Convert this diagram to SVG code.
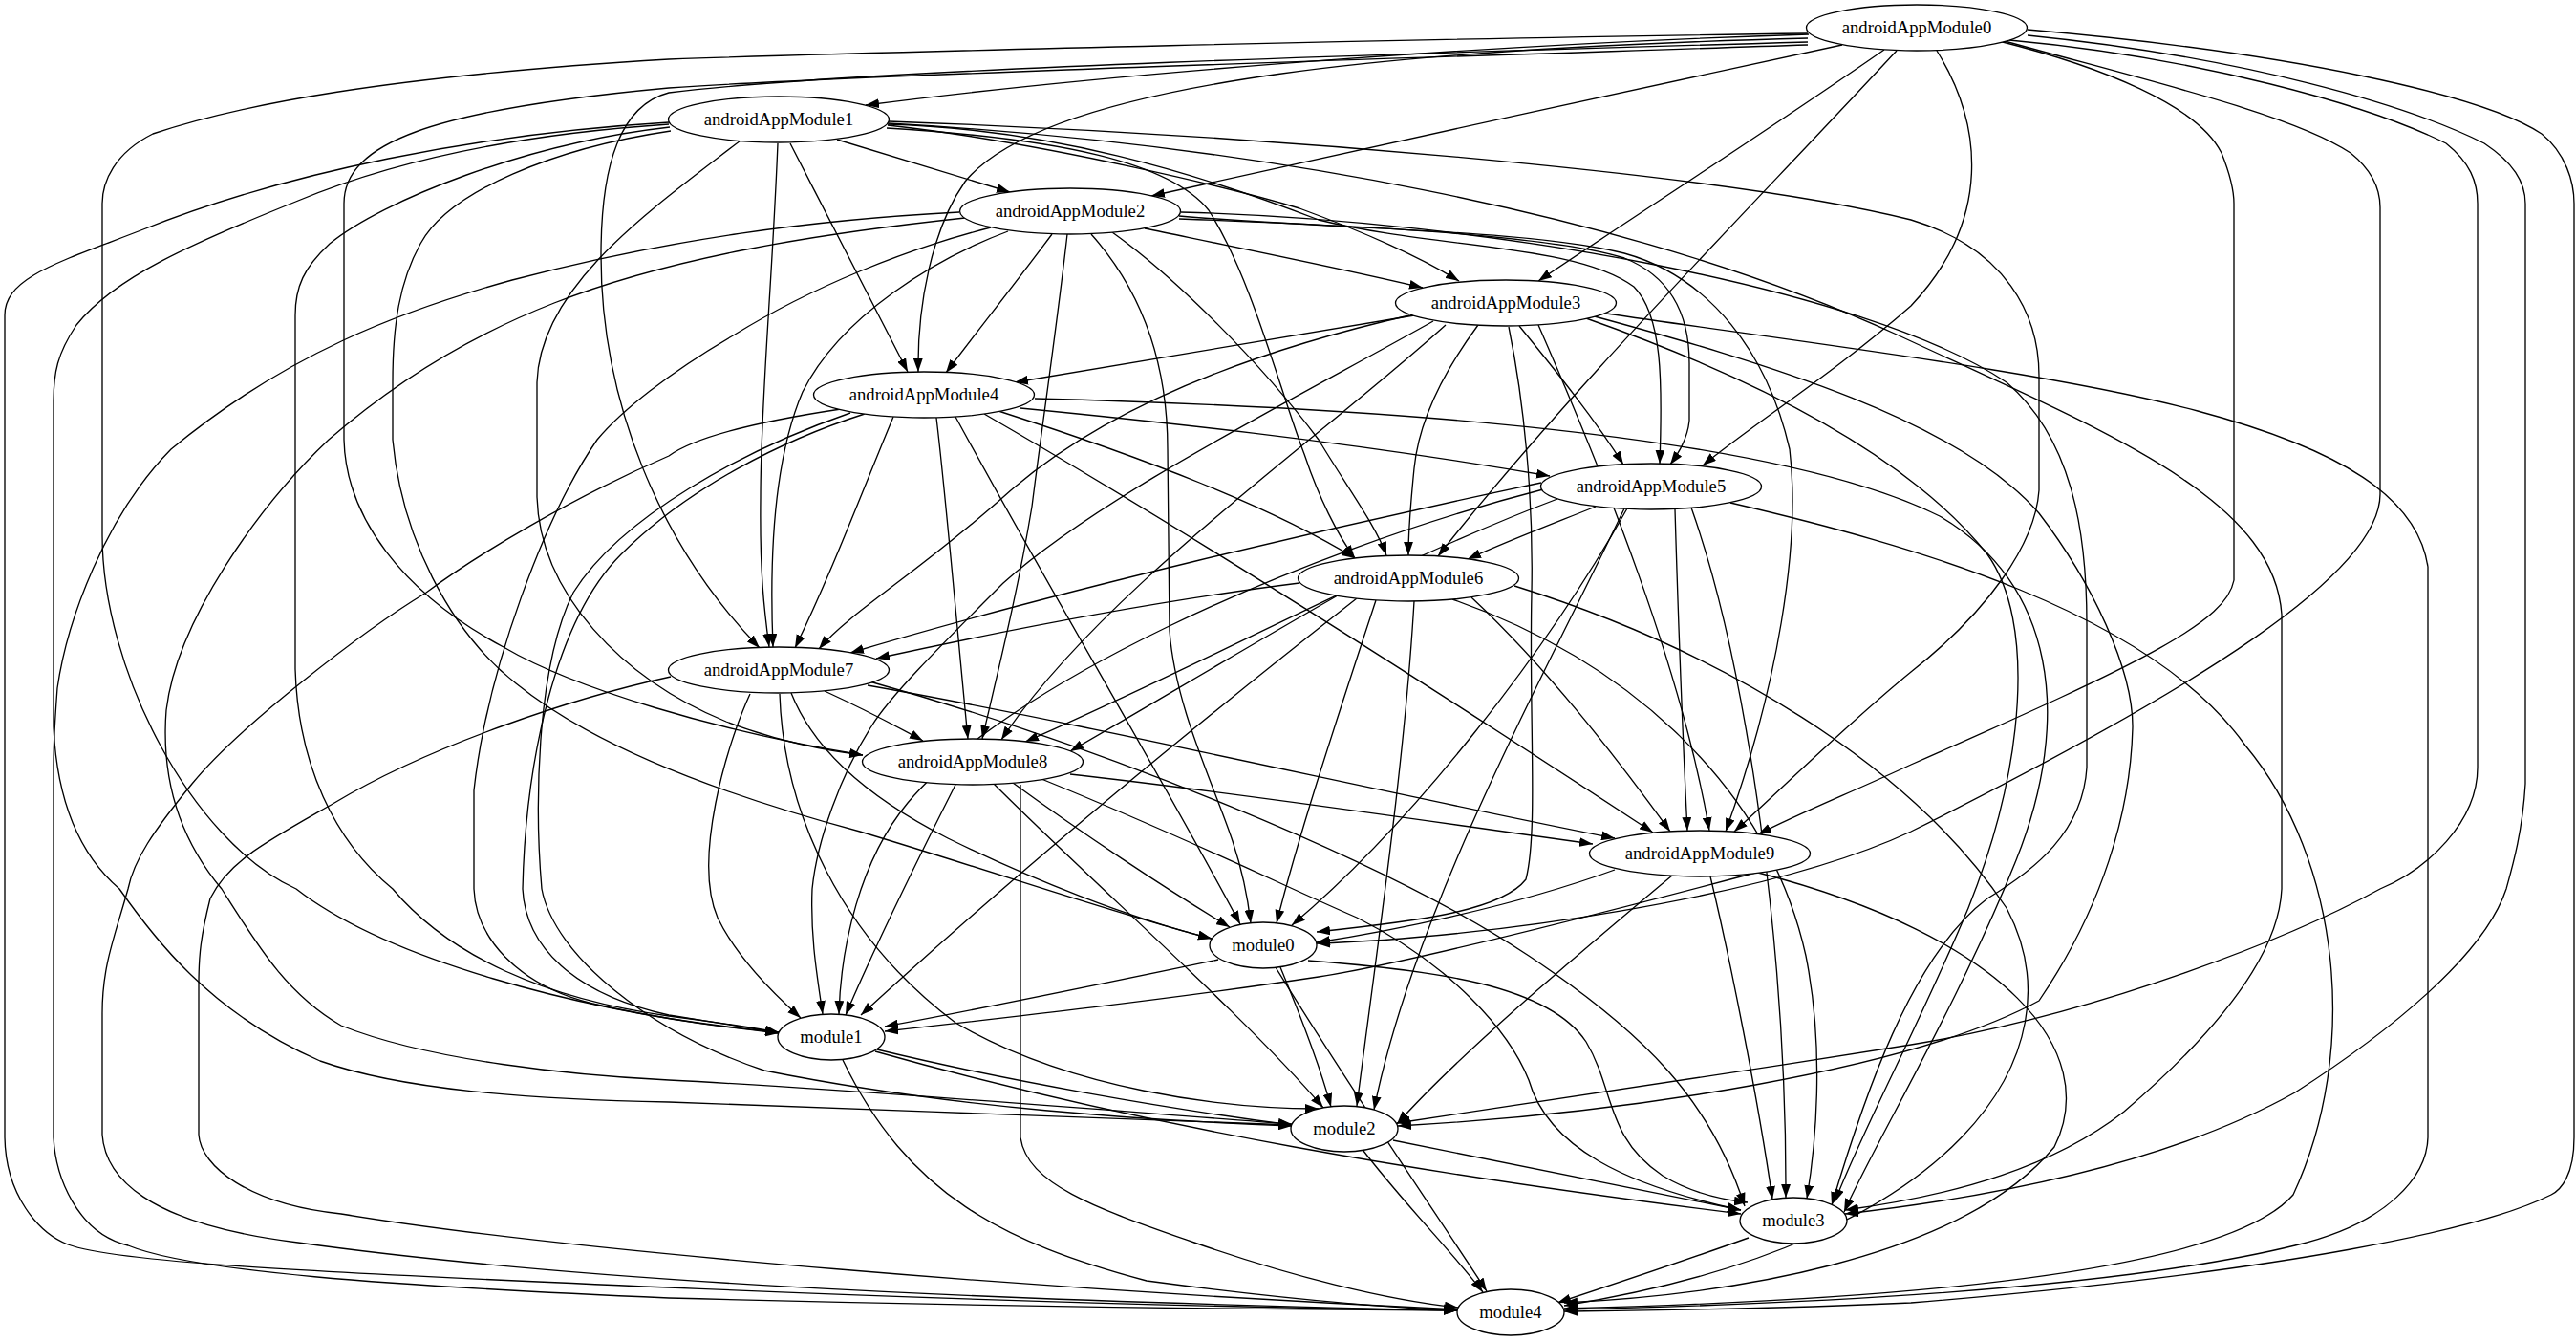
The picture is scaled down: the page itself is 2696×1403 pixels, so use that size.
<svg xmlns="http://www.w3.org/2000/svg" width="2696" height="1403" viewBox="0 0 2696 1403">
<style>
.n ellipse{fill:#fff;stroke:#000;stroke-width:1.33}
.n text{font-family:"Liberation Serif","Times New Roman",serif;font-size:18.67px;text-anchor:middle;fill:#000}
#edges path{fill:none;stroke:#000;stroke-width:1.33;marker-end:url(#ah)}
</style>
<defs>
<marker id="ah" markerUnits="userSpaceOnUse" markerWidth="14" markerHeight="10" refX="13.3" refY="4.67" orient="auto" viewBox="0 0 13.3 9.34"><path d="M0,0 L13.3,4.67 L0,9.34 z" fill="#000"/></marker>
</defs>
<rect width="2696" height="1403" fill="#fff"/>
<g id="edges">
<path d="M1893,36 C1600,45 1200,72 906,110"/>
<path d="M1928,47 C1700,95 1420,158 1205,205"/>
<path d="M1972,52 C1860,130 1720,220 1610,294"/>
<path d="M1892,40 C1500,50 1100,80 1010,190 C975,240 960,320 961,389"/>
<path d="M2027,53 C2075,130 2085,230 2000,320 C1920,390 1840,440 1782,487"/>
<path d="M1985,53 C1830,220 1640,410 1505,582"/>
<path d="M1892,44 C1500,55 900,72 700,97 C650,110 629,170 629,267 C629,420 690,570 795,678"/>
<path d="M1892,47 C1500,60 900,78 700,92 C450,115 360,150 360,213 L360,460 C362,540 420,620 527,677 C600,720 750,765 903,790"/>
<path d="M2092,43 C2200,70 2300,110 2325,160 C2335,185 2338,200 2338,213 L2338,607 C2330,650 2250,690 2000,800 C1940,828 1880,852 1840,873"/>
<path d="M2098,43 C2250,85 2400,120 2460,160 C2485,180 2491,200 2491,217 L2491,517 C2491,600 2300,720 2000,870 C1850,940 1550,982 1378,987"/>
<path d="M1892,35 C1500,40 900,55 700,62 C400,80 250,110 160,140 C120,160 107,190 107,213 L107,560 C107,700 200,880 310,930 C400,1000 600,1060 815,1080"/>
<path d="M2103,42 C2300,60 2480,110 2560,150 C2585,170 2593,190 2593,213 L2593,803 C2593,860 2540,910 2491,930 C2400,980 2200,1060 2000,1093 C1800,1125 1560,1160 1462,1175"/>
<path d="M2122,37 C2350,60 2520,110 2600,150 C2630,170 2643,190 2643,213 L2643,820 C2640,870 2630,905 2623,930 C2600,1000 2500,1080 2402,1143 C2300,1200 2150,1245 1931,1270"/>
<path d="M2122,31 C2400,55 2600,100 2660,140 C2685,160 2694,190 2694,213 L2694,1190 C2694,1230 2680,1245 2670,1250 C2600,1285 2400,1330 2000,1363 C1850,1370 1720,1371 1637,1372"/>
<path d="M876,146 L1057,201"/>
<path d="M929,131 C1100,150 1300,200 1360,218 C1420,240 1480,265 1527,294"/>
<path d="M827,150 C868,230 910,310 950,389"/>
<path d="M929,130 C1100,135 1250,180 1380,230 C1500,260 1650,255 1710,300 C1740,330 1740,400 1737,485"/>
<path d="M928,134 C1110,145 1225,170 1265,220 C1310,290 1340,410 1365,475 C1380,520 1400,560 1418,584"/>
<path d="M814,150 C808,300 796,420 796,520 C795,600 800,640 805,677"/>
<path d="M775,147 C680,220 565,300 562,400 L562,520 C565,620 650,710 760,755 C820,778 870,786 903,790"/>
<path d="M930,127 C1300,140 1800,180 2000,230 C2100,260 2134,330 2134,393 L2134,513 C2130,570 2080,640 2000,703 C1930,760 1860,830 1815,870"/>
<path d="M702,137 C580,155 470,200 440,255 C418,295 411,340 411,400 L411,460 C420,560 470,660 540,715 C620,780 750,830 900,870 C1050,915 1180,960 1268,982"/>
<path d="M701,133 C550,150 400,210 345,255 C318,280 309,300 309,330 L309,700 C312,800 350,880 411,930 C470,1000 570,1045 700,1063 C740,1068 780,1074 815,1080"/>
<path d="M700,130 C550,140 420,165 312,210 C200,255 120,290 80,340 C60,370 56,390 56,420 L56,760 C60,850 90,900 125,930 C160,980 220,1060 335,1110 C420,1140 550,1150 700,1153 C900,1160 1200,1172 1352,1177"/>
<path d="M930,129 C1300,150 1700,220 1985,350 C2200,450 2380,520 2388,643 L2388,930 C2385,1000 2320,1080 2223,1163 C2150,1220 2050,1250 1931,1266"/>
<path d="M700,128 C500,140 300,180 150,240 C60,275 5,290 5,330 L5,1190 C6,1250 40,1290 71,1302 C120,1320 300,1330 700,1347 C1000,1360 1300,1368 1525,1371"/>
<path d="M1198,239 C1300,260 1400,280 1489,301"/>
<path d="M1101,245 C1060,300 1020,350 990,390"/>
<path d="M1234,229 C1400,235 1620,245 1700,270 C1750,290 1768,330 1768,380 L1768,440 C1766,460 1756,475 1748,486"/>
<path d="M1164,243 C1230,290 1320,380 1380,460 C1410,510 1440,550 1451,581"/>
<path d="M1055,242 C980,270 880,330 840,410 C810,480 805,580 809,677"/>
<path d="M1117,245 C1105,350 1090,450 1080,530 C1065,620 1045,700 1028,773"/>
<path d="M1234,226 C1400,240 1600,240 1700,265 C1790,290 1850,370 1873,470 C1885,570 1860,720 1806,870"/>
<path d="M1142,245 C1200,310 1222,390 1222,470 L1224,660 C1230,740 1270,820 1290,880 C1300,910 1306,940 1309,966"/>
<path d="M1037,238 C950,260 850,300 769,350 C700,390 650,430 625,460 C570,540 510,700 496,827 L496,930 C498,980 540,1030 620,1050 C700,1068 770,1076 815,1081"/>
<path d="M1010,228 C850,245 700,270 580,317 C470,360 390,420 344,460 C270,530 185,650 174,743 C168,820 190,880 232,930 C270,990 300,1040 357,1073 C450,1110 600,1125 700,1130 C900,1140 1200,1165 1352,1176"/>
<path d="M1236,222 C1550,230 1950,300 2100,400 C2170,460 2184,560 2184,653 L2184,803 C2180,870 2130,910 2080,940 C2000,1000 1950,1150 1917,1261"/>
<path d="M1004,222 C850,230 700,250 536,293 C420,325 300,370 179,470 C110,540 70,650 60,720 C57,760 56,790 56,800 L56,1190 C58,1230 80,1290 134,1303 C200,1330 400,1345 700,1358 C1000,1366 1300,1370 1525,1371"/>
<path d="M1480,330 C1330,355 1180,380 1062,400"/>
<path d="M1590,341 C1630,390 1670,440 1699,486"/>
<path d="M1547,340 C1510,390 1485,440 1480,490 C1476,530 1474,560 1474,581"/>
<path d="M1475,330 C1300,370 1150,430 1050,520 C960,600 890,640 857,679"/>
<path d="M1513,340 C1380,460 1150,620 1048,774"/>
<path d="M1610,340 C1680,500 1760,700 1789,869"/>
<path d="M1579,342 C1595,420 1605,520 1603,620 C1600,750 1610,870 1597,920 C1570,955 1470,965 1378,975"/>
<path d="M1500,336 C1350,420 1150,520 1050,610 C980,680 930,730 912,760 C880,810 855,880 850,930 C848,980 855,1020 861,1061"/>
<path d="M1665,330 C1850,380 2050,440 2134,537 C2190,610 2232,700 2232,760 C2230,850 2200,950 2134,1047 C2000,1120 1700,1165 1463,1178"/>
<path d="M1660,333 C1850,400 2000,480 2080,580 C2130,650 2120,800 2060,950 C2010,1070 1950,1180 1920,1258"/>
<path d="M1681,328 C1900,360 2150,390 2300,430 C2450,470 2530,520 2541,593 L2541,1190 C2540,1230 2500,1280 2402,1303 C2250,1340 2000,1362 1637,1370"/>
<path d="M1068,427 C1200,440 1400,460 1622,498"/>
<path d="M1045,430 C1200,480 1330,530 1418,584"/>
<path d="M935,436 C900,520 870,600 832,678"/>
<path d="M980,437 C990,520 1000,640 1013,773"/>
<path d="M1030,433 C1250,560 1500,720 1730,871"/>
<path d="M1000,436 C1100,620 1220,820 1298,967"/>
<path d="M905,433 C820,460 720,510 650,580 C580,650 550,800 547,930 C550,990 600,1040 700,1062 C750,1070 790,1076 815,1081"/>
<path d="M890,432 C780,470 650,540 600,620 C560,700 560,850 567,930 C580,1000 680,1080 800,1120 C1000,1160 1200,1172 1352,1178"/>
<path d="M1083,417 C1400,425 1850,450 2030,540 C2150,610 2170,750 2110,900 C2050,1050 1960,1200 1930,1268"/>
<path d="M880,428 C800,440 730,455 700,477 C600,520 500,580 446,620 C380,660 250,760 201,820 C160,870 140,900 134,930 C120,980 107,1010 107,1060 L107,1187 C110,1230 150,1280 312,1300 C600,1340 1000,1360 1525,1371"/>
<path d="M1670,530 C1620,550 1580,565 1536,585"/>
<path d="M1613,505 C1400,550 1100,620 890,683"/>
<path d="M1630,522 C1450,590 1250,700 1073,776"/>
<path d="M1753,533 C1755,600 1760,750 1766,869"/>
<path d="M1703,532 C1620,680 1480,860 1352,968"/>
<path d="M1615,512 C1350,580 1050,720 950,840 C900,900 880,990 878,1061"/>
<path d="M1700,532 C1620,700 1480,950 1438,1161"/>
<path d="M1770,531 C1830,700 1870,1000 1869,1253"/>
<path d="M1811,526 C2000,570 2250,640 2350,780 C2450,900 2470,1100 2400,1250 C2330,1330 2000,1360 1637,1369"/>
<path d="M1360,610 C1200,630 1050,660 917,689"/>
<path d="M1400,623 C1300,680 1200,740 1120,786"/>
<path d="M1540,625 C1620,700 1690,790 1748,870"/>
<path d="M1440,628 C1400,750 1360,870 1336,966"/>
<path d="M1420,626 C1300,720 1100,880 901,1062"/>
<path d="M1480,629 C1470,800 1440,1000 1420,1157"/>
<path d="M1520,627 C1700,690 1850,820 1890,1000 C1910,1100 1900,1200 1891,1254"/>
<path d="M1585,613 C1800,680 2000,800 2100,950 C2180,1100 2050,1300 1637,1366"/>
<path d="M863,723 C900,740 935,758 966,775"/>
<path d="M908,717 C1150,760 1450,830 1690,877"/>
<path d="M828,725 C850,780 900,830 992,877 C1080,920 1180,960 1268,982"/>
<path d="M785,726 C760,780 725,900 751,960 C770,1000 810,1040 838,1065"/>
<path d="M816,726 C820,850 880,980 1000,1070 C1120,1140 1280,1160 1380,1160"/>
<path d="M910,713 C1150,780 1450,900 1600,1000 C1720,1080 1790,1150 1826,1262"/>
<path d="M702,708 C600,730 450,780 350,840 C280,880 240,900 220,940 C210,980 208,1000 208,1030 L208,1187 C210,1220 260,1260 357,1270 C600,1310 1100,1350 1525,1370"/>
<path d="M1120,810 C1300,830 1500,860 1667,883"/>
<path d="M1060,819 C1130,870 1220,930 1287,970"/>
<path d="M1000,821 C960,900 920,980 885,1062"/>
<path d="M1040,820 C1150,930 1300,1060 1385,1159"/>
<path d="M1090,815 C1250,880 1350,930 1420,960 C1520,1010 1580,1080 1600,1130 C1620,1200 1700,1240 1822,1266"/>
<path d="M1068,821 C1068,900 1068,1100 1068,1190 C1075,1240 1150,1265 1250,1300 C1350,1335 1450,1360 1526,1368"/>
<path d="M1690,910 C1580,950 1450,975 1378,986"/>
<path d="M1845,911 C1660,960 1470,1008 1380,1022 C1220,1046 1060,1064 926,1079"/>
<path d="M1750,916 C1650,1000 1530,1100 1462,1176"/>
<path d="M1790,917 C1810,1000 1840,1150 1855,1255"/>
<path d="M1840,913 C2100,980 2200,1100 2150,1200 C2050,1320 1800,1355 1637,1363"/>
<path d="M1275,1004 C1150,1030 1030,1055 926,1074"/>
<path d="M1340,1012 C1360,1060 1380,1110 1393,1158"/>
<path d="M1369,1005 C1500,1015 1620,1030 1660,1090 C1690,1140 1680,1190 1740,1230 C1770,1248 1800,1255 1829,1258"/>
<path d="M1335,1012 C1420,1150 1510,1280 1556,1351"/>
<path d="M918,1098 C1050,1130 1220,1160 1352,1177"/>
<path d="M916,1100 C1200,1180 1500,1230 1822,1270"/>
<path d="M882,1109 C950,1250 1050,1300 1200,1340 C1350,1360 1450,1368 1525,1371"/>
<path d="M1458,1193 L1822,1266"/>
<path d="M1427,1204 C1470,1260 1520,1310 1552,1352"/>
<path d="M1830,1295 C1760,1320 1700,1340 1630,1363"/>
</g>
<g id="androidAppModule0" class="n"><ellipse cx="2006" cy="29" rx="115.5" ry="24"/><text x="2006" y="35">androidAppModule0</text></g>
<g id="androidAppModule1" class="n"><ellipse cx="815" cy="125" rx="115.5" ry="24"/><text x="815" y="131">androidAppModule1</text></g>
<g id="androidAppModule2" class="n"><ellipse cx="1120" cy="221" rx="115.5" ry="24"/><text x="1120" y="227">androidAppModule2</text></g>
<g id="androidAppModule3" class="n"><ellipse cx="1576" cy="317" rx="115.5" ry="24"/><text x="1576" y="323">androidAppModule3</text></g>
<g id="androidAppModule4" class="n"><ellipse cx="967" cy="413" rx="115.5" ry="24"/><text x="967" y="419">androidAppModule4</text></g>
<g id="androidAppModule5" class="n"><ellipse cx="1728" cy="509" rx="115.5" ry="24"/><text x="1728" y="515">androidAppModule5</text></g>
<g id="androidAppModule6" class="n"><ellipse cx="1474" cy="605" rx="115.5" ry="24"/><text x="1474" y="611">androidAppModule6</text></g>
<g id="androidAppModule7" class="n"><ellipse cx="815" cy="701" rx="115.5" ry="24"/><text x="815" y="707">androidAppModule7</text></g>
<g id="androidAppModule8" class="n"><ellipse cx="1018" cy="797" rx="115.5" ry="24"/><text x="1018" y="803">androidAppModule8</text></g>
<g id="androidAppModule9" class="n"><ellipse cx="1779" cy="893" rx="115.5" ry="24"/><text x="1779" y="899">androidAppModule9</text></g>
<g id="module0" class="n"><ellipse cx="1322" cy="989" rx="56" ry="24"/><text x="1322" y="995">module0</text></g>
<g id="module1" class="n"><ellipse cx="870" cy="1085" rx="56" ry="24"/><text x="870" y="1091">module1</text></g>
<g id="module2" class="n"><ellipse cx="1407" cy="1181" rx="56" ry="24"/><text x="1407" y="1187">module2</text></g>
<g id="module3" class="n"><ellipse cx="1877" cy="1277" rx="56" ry="24"/><text x="1877" y="1283">module3</text></g>
<g id="module4" class="n"><ellipse cx="1581" cy="1373" rx="56" ry="24"/><text x="1581" y="1379">module4</text></g>
</svg>
